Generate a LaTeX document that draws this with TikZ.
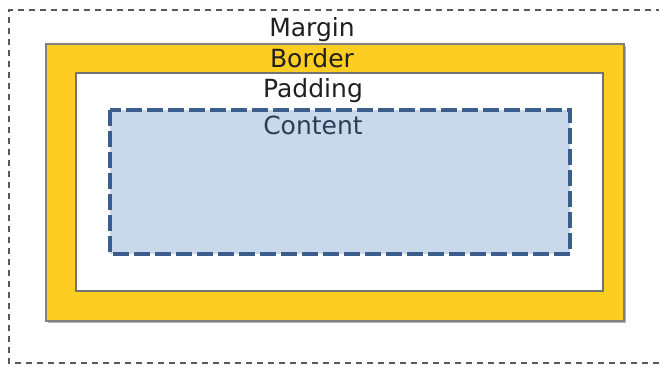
\documentclass[tikz,border=0pt]{standalone}
\usepackage{fontspec}
\setmainfont{DejaVu Sans}
\begin{document}
\begin{tikzpicture}[x=1pt,y=-1pt,
  lbl/.style={anchor=base,inner sep=0pt,font=\fontsize{25}{25}\selectfont,text=black!88},
  marginline/.style={draw=black!65,line width=1.1pt,dash pattern=on 6pt off 5pt},
  borderbox/.style={fill=borderyellow,draw=black!50,line width=1.2pt},
  paddingbox/.style={fill=white,draw=black!55,line width=1.2pt},
  contentbox/.style={fill=contentblue,draw=contentedge,line width=3.6pt,dash pattern=on 16pt off 5pt}]
\definecolor{borderyellow}{HTML}{FDCD22}
\definecolor{contentblue}{HTML}{C9D9EB}
\definecolor{contentedge}{HTML}{3B5E8C}
\definecolor{contenttext}{HTML}{2F3E52}
\useasboundingbox (0,0) rectangle (659,367);
\fill[white] (0,0) rectangle (659,367);
% margin (open on the right, runs past the edge)
\draw[marginline] (662,10) -- (9,10) -- (9,363) -- (662,363);
% border
\fill[black!30] (48,46) rectangle (626,323);
\draw[borderbox] (46,44) rectangle (624,321);
% padding
\draw[paddingbox] (76,73) rectangle (603,291);
% content
\draw[contentbox] (110,110) rectangle (570,254);
% labels
\node[lbl] (margin) at (312,36.5) {Margin};
\node[lbl] (border) at (312,67) {Border};
\node[lbl] (padding) at (313,97.5) {Padding};
\node[lbl,text=contenttext] (content) at (313,134) {Content};
\end{tikzpicture}
\end{document}
